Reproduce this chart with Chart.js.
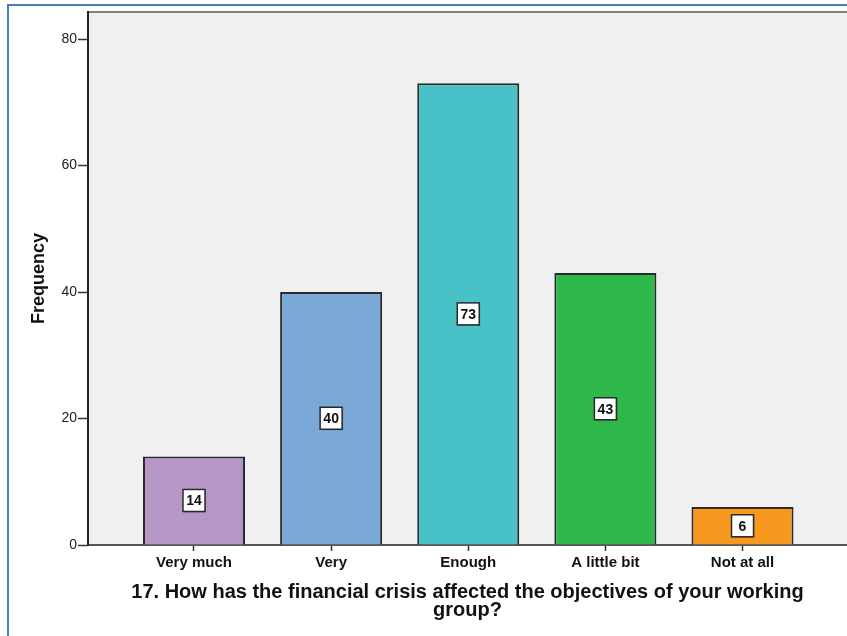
<!DOCTYPE html>
<html>
<head>
<meta charset="utf-8">
<script src="https://cdn.jsdelivr.net/npm/chart.js@4.4.1/dist/chart.umd.min.js"></script>
<style>
  html, body { margin: 0; padding: 0; background: #ffffff; }
  #wrap { width: 847px; height: 636px; }
</style>
</head>
<body>
<div id="wrap"><canvas id="chart" width="847" height="636"></canvas></div>
<script>
// Responses to question 17
const categories = ['Very much', 'Very', 'Enough', 'A little bit', 'Not at all'];
const frequencies = [14, 40, 73, 43, 6];
const barColors = ['#b897c8', '#7aa8d7', '#48c2c6', '#2eb84b', '#f7991f'];
const yTickValues = [0, 20, 40, 60, 80];
const xTitleLines = ['17. How has the financial crisis affected the objectives of your working', 'group?'];
const yTitle = 'Frequency';

const FONT = "'Liberation Sans', Arial, Helvetica, sans-serif";

// Frame: outer blue border, grey plot background and top rule
const framePlugin = {
  id: 'frame',
  beforeDraw(chart) {
    const { ctx, chartArea: a } = chart;
    ctx.save();
    ctx.strokeStyle = '#4a7ebb';
    ctx.lineWidth = 2;
    ctx.strokeRect(8, 5, chart.width + 20, chart.height + 20);
    ctx.fillStyle = '#f0f0f0';
    ctx.fillRect(a.left, a.top, a.right - a.left, a.bottom - a.top);
    ctx.strokeStyle = '#7f7f7f';
    ctx.lineWidth = 2;
    ctx.beginPath();
    ctx.moveTo(a.left, a.top);
    ctx.lineTo(a.right, a.top);
    ctx.stroke();
    ctx.restore();
  }
};

// Boxed value labels at the middle of each bar
const valueBoxPlugin = {
  id: 'valueBoxes',
  afterDatasetsDraw(chart) {
    const { ctx } = chart;
    const meta = chart.getDatasetMeta(0);
    ctx.save();
    meta.data.forEach((bar, i) => {
      const v = frequencies[i];
      const cx = bar.x;
      const cy = (bar.y + bar.base) / 2;
      const w = 22, h = 22;
      ctx.fillStyle = 'rgba(0,0,0,0.25)';
      ctx.fillRect(cx - w / 2 + 1, cy - h / 2 + 1, w, h);
      ctx.fillStyle = '#ffffff';
      ctx.fillRect(cx - w / 2, cy - h / 2, w, h);
      ctx.strokeStyle = '#2a2a2a';
      ctx.lineWidth = 1.5;
      ctx.strokeRect(cx - w / 2, cy - h / 2, w, h);
      ctx.fillStyle = '#111111';
      ctx.font = 'bold 14px ' + FONT;
      ctx.textAlign = 'center';
      ctx.textBaseline = 'middle';
      ctx.fillText(String(v), cx, cy + 1);
    });
    ctx.restore();
  }
};

new Chart(document.getElementById('chart'), {
  type: 'bar',
  data: {
    datasets: [{
      data: categories.map((c, i) => ({ x: i, y: frequencies[i] })),
      backgroundColor: barColors,
      borderColor: '#2a2a2a',
      borderWidth: 2,
      categoryPercentage: 1,
      barPercentage: 0.744
    }]
  },
  options: {
    responsive: false,
    animation: false,
    events: [],
    layout: { padding: { left: 0, right: 0, top: 12, bottom: 0 } },
    plugins: {
      legend: { display: false },
      tooltip: { enabled: false }
    },
    scales: {
      x: {
        type: 'linear',
        min: -0.773,
        max: 4.762,
        offset: false,
        afterBuildTicks(scale) {
          scale.ticks = categories.map((c, i) => ({ value: i }));
        },
        afterFit(scale) { scale.height = 91; },
        grid: {
          display: true,
          offset: false,
          drawOnChartArea: false,
          drawTicks: true,
          tickLength: 6,
          tickColor: '#333333',
          tickWidth: 1.5
        },
        border: { display: true, color: '#555555', width: 2 },
        ticks: {
          autoSkip: false,
          maxRotation: 0,
          padding: 3,
          color: '#111111',
          font: { family: FONT, size: 15, weight: 'bold' },
          callback: (v) => categories[v]
        },
        title: {
          display: true,
          text: xTitleLines,
          color: '#111111',
          font: { family: FONT, size: 20, weight: 'bold', lineHeight: 0.9 },
          padding: { top: 0, bottom: 17 }
        }
      },
      y: {
        min: 0,
        max: 84.27,
        afterBuildTicks(scale) {
          scale.ticks = yTickValues.map(v => ({ value: v }));
        },
        afterFit(scale) { scale.width = 88; },
        grid: {
          display: true,
          drawOnChartArea: false,
          drawTicks: true,
          tickLength: 10,
          tickColor: '#333333',
          tickWidth: 1.5
        },
        border: { display: true, color: '#222222', width: 2 },
        ticks: {
          padding: 1,
          color: '#222222',
          font: { family: FONT, size: 14 }
        },
        title: {
          display: true,
          text: yTitle,
          color: '#111111',
          font: { family: FONT, size: 18, weight: 'bold', lineHeight: 1.2 },
          padding: { top: 28, bottom: 0 }
        }
      }
    }
  },
  plugins: [framePlugin, valueBoxPlugin]
});
</script>
</body>
</html>
